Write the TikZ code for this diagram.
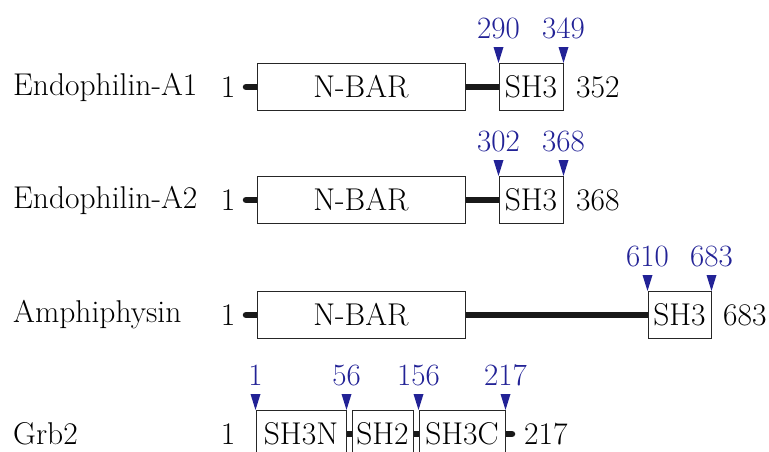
\documentclass[tikz,border=0pt]{standalone}
\usepackage{fontspec}
\setmainfont{Latin Modern Roman}
\begin{document}
\begin{tikzpicture}[x=1pt,y=-1pt,
  txt/.style={font=\fontsize{31.5}{36}\selectfont, inner sep=0pt},
  dom/.style={draw=black!85, line width=1pt, fill=white, minimum height=47pt, inner sep=0pt, font=\fontsize{31.5}{36}\selectfont},
  link/.style={line width=6.5pt, draw=black!90},
  stub/.style={line width=6.5pt, draw=black!90, line cap=round},
  tri/.style={fill=tblue},
  num/.style={text=tblue, font=\fontsize{31}{36}\selectfont, inner sep=0pt, anchor=base}]
\definecolor{tblue}{RGB}{34,34,150}
\useasboundingbox (0,0) rectangle (769,451);
\begin{scope}
\clip (0,0) rectangle (769,451);
% ---------- Row 1
\coordinate (s1) at (246,87);
\node[dom, minimum width=208pt] (nbar1) at (361,87) {N-BAR};
\node[dom, minimum width=64pt] (sh31) at (531,87) {SH3};
\draw[stub] (s1) -- (nbar1.west);
\draw[link] (nbar1.east) -- (sh31.west);
\node[dom, minimum width=208pt] at (nbar1) {N-BAR};
\node[dom, minimum width=64pt] at (sh31) {SH3};
\node[txt, anchor=west] (name1) at (13,87) {Endophilin-A1};
\node[txt] (one1) at (228,87) {1};
\node[txt, anchor=west] (end1) at (576,87) {352};
\fill[tri] (sh31.north west) -- ++(-5,-16) -- ++(10,0) -- cycle;
\fill[tri] (sh31.north east) -- ++(-5,-16) -- ++(10,0) -- cycle;
\path (sh31.north west) ++(0,-25) node[num] (a1) {290};
\path (sh31.north east) ++(0,-25) node[num] (b1) {349};
% ---------- Row 2
\coordinate (s2) at (246,200);
\node[dom, minimum width=208pt] (nbar2) at (361,200) {N-BAR};
\node[dom, minimum width=64pt] (sh32) at (531,200) {SH3};
\draw[stub] (s2) -- (nbar2.west);
\draw[link] (nbar2.east) -- (sh32.west);
\node[dom, minimum width=208pt] at (nbar2) {N-BAR};
\node[dom, minimum width=64pt] at (sh32) {SH3};
\node[txt, anchor=west] (name2) at (13,200) {Endophilin-A2};
\node[txt] (one2) at (228,200) {1};
\node[txt, anchor=west] (end2) at (576,200) {368};
\fill[tri] (sh32.north west) -- ++(-5,-16) -- ++(10,0) -- cycle;
\fill[tri] (sh32.north east) -- ++(-5,-16) -- ++(10,0) -- cycle;
\path (sh32.north west) ++(0,-25) node[num] (a2) {302};
\path (sh32.north east) ++(0,-25) node[num] (b2) {368};
% ---------- Row 3
\coordinate (s3) at (246,315);
\node[dom, minimum width=208pt] (nbar3) at (361,315) {N-BAR};
\node[dom, minimum width=63pt] (sh33) at (679.5,315) {SH3};
\draw[stub] (s3) -- (nbar3.west);
\draw[link] (nbar3.east) -- (sh33.west);
\node[dom, minimum width=208pt] at (nbar3) {N-BAR};
\node[dom, minimum width=63pt] at (sh33) {SH3};
\node[txt, anchor=west] (name3) at (13,315) {Amphiphysin};
\node[txt] (one3) at (228,315) {1};
\node[txt, anchor=west] (end3) at (723,315) {683};
\fill[tri] (sh33.north west) -- ++(-5,-16) -- ++(10,0) -- cycle;
\fill[tri] (sh33.north east) -- ++(-5,-16) -- ++(10,0) -- cycle;
\path (sh33.north west) ++(0,-25) node[num] (a3) {610};
\path (sh33.north east) ++(0,-25) node[num] (b3) {683};
% ---------- Row 4
\coordinate (e4) at (512,434);
\node[dom, minimum width=90pt] (sh3n) at (301,434) {SH3N};
\node[dom, minimum width=61pt] (sh2) at (382.5,434) {SH2};
\node[dom, minimum width=86pt] (sh3c) at (462,434) {SH3C};
\draw[link] (sh3n.east) -- (sh2.west);
\draw[link] (sh2.east) -- (sh3c.west);
\draw[stub] (sh3c.east) -- (e4);
\node[dom, minimum width=90pt] at (sh3n) {SH3N};
\node[dom, minimum width=61pt] at (sh2) {SH2};
\node[dom, minimum width=86pt] at (sh3c) {SH3C};
\node[txt, anchor=west] (name4) at (13,434) {Grb2};
\node[txt] (one4) at (228,434) {1};
\node[txt, anchor=west] (end4) at (524,434) {217};
\fill[tri] (sh3n.north west) -- ++(-5,-16) -- ++(10,0) -- cycle;
\fill[tri] (sh3n.north east) -- ++(-5,-16) -- ++(10,0) -- cycle;
\fill[tri] (sh3c.north west) -- ++(-5,-16) -- ++(10,0) -- cycle;
\fill[tri] (sh3c.north east) -- ++(-5,-16) -- ++(10,0) -- cycle;
\path (sh3n.north west) ++(0,-25) node[num] (a4) {1};
\path (sh3n.north east) ++(0,-25) node[num] (b4) {56};
\path (sh3c.north west) ++(0,-25) node[num] (c4) {156};
\path (sh3c.north east) ++(0,-25) node[num] (d4) {217};
\end{scope}
\end{tikzpicture}
\end{document}
